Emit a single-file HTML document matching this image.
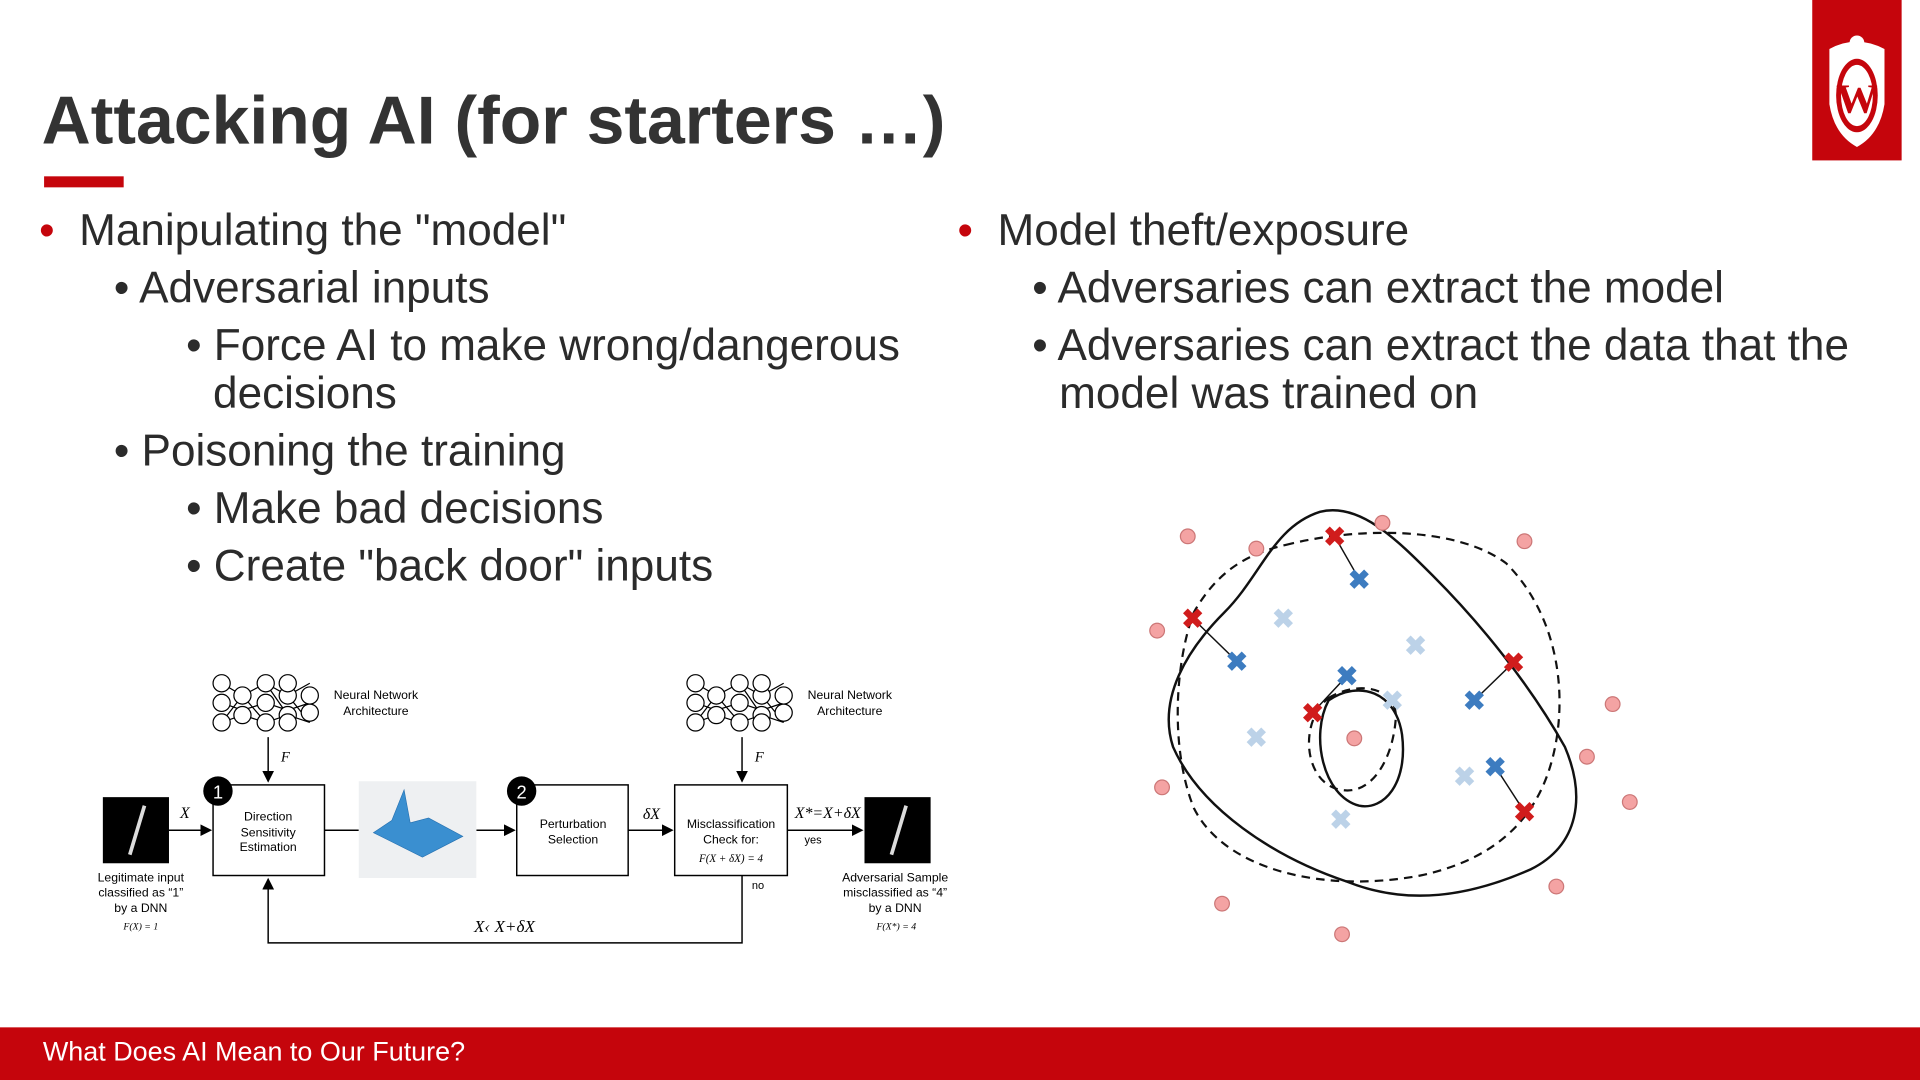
<!DOCTYPE html>
<html><head><meta charset="utf-8"><style>
html,body{margin:0;padding:0;width:1920px;height:1080px;overflow:hidden;background:#fff}
#s{position:absolute;left:0;top:0;width:1568px;height:882px;transform:scale(1.22449);transform-origin:0 0;font-family:"Liberation Sans",Arial,sans-serif;color:#2b2b2b}
.t{position:absolute;white-space:nowrap}
.b{font-size:36px;line-height:40px}
.dot{color:#c5050c}
</style></head><body><div id="s">
<div class="t" style="left:34px;top:66px;font-size:55.5px;font-weight:bold;color:#333">Attacking AI (for starters …)</div>
<div style="position:absolute;left:36px;top:144px;width:65px;height:9px;background:#c5050c"></div>
<div style="position:absolute;left:1480px;top:0;width:73px;height:131px;background:#c5050c"></div>
<svg style="position:absolute;left:1480px;top:0" width="73" height="131" viewBox="0 0 73 131">
<path d="M14 40 Q36 28 59 40 L59 85 Q55 110 36.5 120 Q18 110 14 85Z" fill="#fff"/>
<ellipse cx="36.5" cy="78" rx="17" ry="30" fill="#c5050c"/>
<ellipse cx="36.5" cy="78" rx="13" ry="25" fill="#fff"/>
<text x="36.5" y="92" text-anchor="middle" font-family="Liberation Serif" font-weight="bold" font-size="34" fill="#c5050c">W</text>
<circle cx="36.5" cy="35" r="6" fill="#fff"/></svg>

<div class="t b" style="left:32px;top:168px"><span class="dot">•</span>&nbsp; Manipulating the "model"</div>
<div class="t b" style="left:93px;top:215px">• Adversarial inputs</div>
<div class="t b" style="left:152px;top:262px">• Force AI to make wrong/dangerous</div>
<div class="t b" style="left:174px;top:301px">decisions</div>
<div class="t b" style="left:93px;top:348px">• Poisoning the training</div>
<div class="t b" style="left:152px;top:395px">• Make bad decisions</div>
<div class="t b" style="left:152px;top:442px">• Create "back door" inputs</div>

<div class="t b" style="left:782px;top:168px"><span class="dot">•</span>&nbsp; Model theft/exposure</div>
<div class="t b" style="left:843px;top:215px">• Adversaries can extract the model</div>
<div class="t b" style="left:843px;top:262px">• Adversaries can extract the data that the</div>
<div class="t b" style="left:865px;top:301px">model was trained on</div>

<div style="position:absolute;left:0;top:839px;width:1568px;height:43px;background:#c5050c"></div>
<div class="t" style="left:35px;top:846px;font-size:22px;color:#fff">What Does AI Mean to Our Future?</div>

<svg style="position:absolute;left:0;top:0" width="1568" height="882" viewBox="0 0 1568 882" font-family="Liberation Sans" >
<defs><marker id="a" markerWidth="8" markerHeight="8" refX="7" refY="4" orient="auto"><path d="M0,0 L8,4 L0,8Z" fill="#000"/></marker>
<g id="nn" fill="#fff" stroke="#000" stroke-width="1">
<path d="M8 8 L25 18 L44 8 L62 18 L80 8 M8 24 L25 30 L44 24 L62 30 L80 24 M8 40 L25 34 L44 40 L62 34 L80 40 M25 18 L44 40 M44 8 L62 34 M8 40 L25 18 M62 18 L80 40" fill="none"/>
<circle cx="8" cy="8" r="7"/><circle cx="8" cy="24" r="7"/><circle cx="8" cy="40" r="7"/>
<circle cx="25" cy="18" r="7"/><circle cx="25" cy="34" r="7"/>
<circle cx="44" cy="8" r="7"/><circle cx="44" cy="24" r="7"/><circle cx="44" cy="40" r="7"/>
<circle cx="62" cy="18" r="7"/><circle cx="62" cy="34" r="7"/><circle cx="62" cy="8" r="7"/><circle cx="62" cy="40" r="7"/>
<circle cx="80" cy="18" r="7"/><circle cx="80" cy="32" r="7"/></g></defs>
<use href="#nn" x="173" y="550"/><use href="#nn" x="560" y="550"/>
<text x="307" y="571" font-size="10" text-anchor="middle">Neural Network</text><text x="307" y="584" font-size="10" text-anchor="middle">Architecture</text>
<text x="694" y="571" font-size="10" text-anchor="middle">Neural Network</text><text x="694" y="584" font-size="10" text-anchor="middle">Architecture</text>
<g stroke="#000" stroke-width="1.2" fill="none">
<line x1="219" y1="602" x2="219" y2="638" marker-end="url(#a)"/>
<line x1="606" y1="602" x2="606" y2="638" marker-end="url(#a)"/>
<rect x="174" y="641" width="91" height="74" fill="#fff"/>
<rect x="422" y="641" width="91" height="74" fill="#fff"/>
<rect x="551" y="641" width="92" height="74" fill="#fff"/>
<line x1="138" y1="678" x2="172" y2="678" marker-end="url(#a)"/>
<line x1="265" y1="678" x2="293" y2="678"/>
<line x1="389" y1="678" x2="420" y2="678" marker-end="url(#a)"/>
<line x1="513" y1="678" x2="549" y2="678" marker-end="url(#a)"/>
<line x1="643" y1="678" x2="704" y2="678" marker-end="url(#a)"/>
<polyline points="606,715 606,770 219,770 219,718" marker-end="url(#a)"/>
</g>
<rect x="84" y="651" width="54" height="54" fill="#000"/><line x1="106" y1="698" x2="118" y2="658" stroke="#ddd" stroke-width="3"/>
<rect x="706" y="651" width="54" height="54" fill="#000"/><line x1="728" y1="698" x2="740" y2="658" stroke="#ddd" stroke-width="3"/>
<rect x="293" y="638" width="96" height="79" fill="#eef0f2"/>
<path d="M305 680 L320 670 L330 645 L335 672 L350 668 L378 683 L345 700 Z" fill="#3a8fd0" stroke="#2570b0" stroke-width="0.5"/>
<circle cx="178" cy="646" r="12"/><text x="178" y="652" font-size="15" fill="#fff" text-anchor="middle">1</text>
<circle cx="426" cy="646" r="12"/><text x="426" y="652" font-size="15" fill="#fff" text-anchor="middle">2</text>
<g font-size="10" text-anchor="middle">
<text x="219" y="670">Direction</text><text x="219" y="683">Sensitivity</text><text x="219" y="695">Estimation</text>
<text x="468" y="676">Perturbation</text><text x="468" y="689">Selection</text>
<text x="597" y="676">Misclassification</text><text x="597" y="689">Check for:</text>
<text x="115" y="720">Legitimate input</text><text x="115" y="732">classified as “1”</text><text x="115" y="745">by a DNN</text>
<text x="731" y="720">Adversarial Sample</text><text x="731" y="732">misclassified as “4”</text><text x="731" y="745">by a DNN</text>
<text x="664" y="689" font-size="9">yes</text><text x="619" y="726" font-size="9">no</text>
</g>
<g font-family="Liberation Serif" font-style="italic" text-anchor="middle">
<text x="151" y="668" font-size="13">X</text><text x="233" y="622" font-size="12">F</text><text x="620" y="622" font-size="12">F</text>
<text x="532" y="669" font-size="13">δX</text><text x="676" y="668" font-size="13">X*=X+δX</text>
<text x="597" y="704" font-size="9">F(X + δX) = 4</text>
<text x="412" y="761" font-size="14">X‹ X+δX</text>
<text x="115" y="759" font-size="8">F(X) = 1</text><text x="732" y="759" font-size="8">F(X*) = 4</text>
</g>

<g fill="none" stroke="#111" stroke-width="2">
<path d="M1078 418 C1110 410 1140 440 1170 470 C1210 510 1250 560 1278 610 C1295 650 1290 690 1250 710 C1200 732 1150 740 1100 720 C1040 700 980 660 958 610 C945 570 970 530 1000 500 C1030 470 1040 430 1078 418Z"/>
<path d="M1085 572 C1110 555 1140 565 1145 600 C1150 640 1130 662 1110 658 C1080 650 1070 600 1085 572Z"/>
</g>
<g fill="none" stroke="#111" stroke-width="1.8" stroke-dasharray="7,5">
<path d="M1050 445 C1110 430 1190 430 1230 460 C1270 500 1280 560 1270 610 C1260 660 1230 700 1160 715 C1080 730 1000 710 975 660 C955 610 960 540 975 500 C995 465 1020 452 1050 445Z"/>
<path d="M1085 570 C1110 555 1140 562 1140 585 C1138 620 1120 650 1095 645 C1065 640 1060 590 1085 570Z"/>
</g>
<g stroke="#111" stroke-width="1.2">
<line x1="1110" y1="473" x2="1090" y2="438"/><line x1="1010" y1="540" x2="974" y2="505"/>
<line x1="1100" y1="552" x2="1072" y2="582"/><line x1="1204" y1="572" x2="1236" y2="541"/>
<line x1="1221" y1="626" x2="1245" y2="663"/></g>
<g fill="#f4a3a3" stroke="#c77" stroke-width="1">
<circle cx="970" cy="438" r="6"/><circle cx="1026" cy="448" r="6"/><circle cx="1129" cy="427" r="6"/><circle cx="1245" cy="442" r="6"/>
<circle cx="945" cy="515" r="6"/><circle cx="1317" cy="575" r="6"/><circle cx="1296" cy="618" r="6"/><circle cx="1331" cy="655" r="6"/>
<circle cx="949" cy="643" r="6"/><circle cx="1106" cy="603" r="6"/><circle cx="1271" cy="724" r="6"/><circle cx="998" cy="738" r="6"/><circle cx="1096" cy="763" r="6"/></g>
<g font-size="22" font-weight="bold" text-anchor="middle">
<g fill="#d01c1c"><text x="1090" y="446">✖</text><text x="974" y="513">✖</text><text x="1072" y="590">✖</text><text x="1236" y="549">✖</text><text x="1245" y="671">✖</text></g>
<g fill="#3d7cc0"><text x="1110" y="481">✖</text><text x="1010" y="548">✖</text><text x="1100" y="560">✖</text><text x="1204" y="580">✖</text><text x="1221" y="634">✖</text></g>
<g fill="#bcd2e8"><text x="1048" y="513">✖</text><text x="1156" y="535">✖</text><text x="1137" y="580">✖</text><text x="1026" y="610">✖</text><text x="1196" y="642">✖</text><text x="1095" y="677">✖</text></g>
</g>
</svg>
</div></body></html>
